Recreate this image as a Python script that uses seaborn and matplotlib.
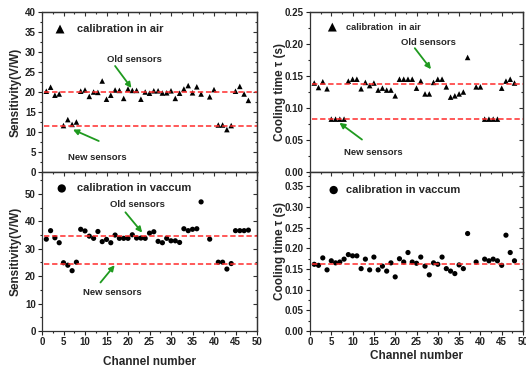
import numpy as np
import pandas as pd
import matplotlib
matplotlib.use("Agg")
import matplotlib.pyplot as plt
import seaborn as sns
from matplotlib.ticker import MultipleLocator, AutoMinorLocator

# ---- data ----
ch_air = list(range(1, 38)) + list(range(39, 49))
ch_vac = list(range(1, 38)) + [39] + list(range(41, 49))

sens_air = [20.2, 21.2, 19.2, 19.5, 11.6, 13.1, 11.9, 12.5, 20.2, 20.5,
            18.9, 20.0, 19.9, 22.75, 18.2, 19.2, 20.5, 20.4, 18.4, 20.75,
            20.4, 20.4, 18.2, 20.0, 19.7, 20.3, 20.3, 19.75, 19.8, 20.3,
            18.4, 19.7, 20.75, 21.6, 19.8, 21.3, 19.5,
            18.8, 20.6, 11.75, 11.75, 10.6, 11.6, 20.2, 21.4, 19.5, 17.9]

tau_air = [0.139, 0.132, 0.141, 0.130, 0.0826, 0.0826, 0.0826, 0.0826, 0.142, 0.145,
           0.145, 0.130, 0.140, 0.135, 0.139, 0.128, 0.131, 0.128, 0.128, 0.119,
           0.145, 0.145, 0.145, 0.145, 0.131, 0.142, 0.122, 0.122, 0.140, 0.145,
           0.145, 0.133, 0.117, 0.119, 0.122, 0.125, 0.179,
           0.133, 0.133, 0.0826, 0.0826, 0.0826, 0.0826, 0.131, 0.142, 0.145, 0.139]

sens_vac = [33.5, 36.6, 34.0, 32.2, 24.9, 24.0, 22.0, 25.1, 37.1, 36.5,
            34.6, 33.8, 36.3, 32.6, 33.4, 32.2, 35.0, 33.8, 33.8, 33.8,
            35.1, 33.9, 33.9, 33.8, 35.7, 36.2, 32.7, 32.2, 33.8, 32.9,
            32.9, 32.3, 37.3, 36.6, 37.1, 37.3, 47.1,
            33.5, 25.1, 25.1, 22.6, 24.6, 36.6, 36.6, 36.6, 36.8]

tau_vac = [0.1615, 0.159, 0.177, 0.148, 0.170, 0.165, 0.167, 0.174, 0.185, 0.182,
           0.182, 0.151, 0.174, 0.148, 0.179, 0.148, 0.157, 0.145, 0.165, 0.131,
           0.175, 0.167, 0.190, 0.167, 0.164, 0.179, 0.157, 0.136, 0.165, 0.1615,
           0.179, 0.151, 0.145, 0.139, 0.160, 0.151, 0.236,
           0.167, 0.174, 0.170, 0.174, 0.170, 0.159, 0.232, 0.190, 0.170]

# mean levels (red dashed lines)
sens_air_old, sens_air_new = 20.0, 11.4
tau_air_old, tau_air_new = 0.138, 0.0826
sens_vac_old, sens_vac_new = 34.75, 24.4
tau_vac_old = 0.1615

df_air = pd.DataFrame({"ch": ch_air, "sens": sens_air, "tau": tau_air})
df_vac = pd.DataFrame({"ch": ch_vac, "sens": sens_vac, "tau": tau_vac})

sns.set_theme(style="ticks")
plt.rcParams["font.family"] = ["Liberation Sans", "DejaVu Sans"]
plt.rcParams["font.weight"] = "bold"
plt.rcParams["axes.labelweight"] = "bold"

fig = plt.figure(figsize=(5.26, 3.70), dpi=100)
W, H = 526, 370


def box(x0, x1, y0, y1):
    return [x0 / W, (H - y1) / H, (x1 - x0) / W, (y1 - y0) / H]


ax1 = fig.add_axes(box(42, 257, 12, 172))
ax3 = fig.add_axes(box(42, 257, 172, 331))
ax2 = fig.add_axes(box(310, 523, 12, 172))
ax4 = fig.add_axes(box(310, 523, 172, 331))

RED = "#ff2b2b"
GREEN = "#1f9a1f"
dash = (0, (3.5, 1.8))

sns.scatterplot(data=df_air, x="ch", y="sens", marker="^", s=16, color="black",
                edgecolor="none", ax=ax1, label="calibration in air")
sns.scatterplot(data=df_air, x="ch", y="tau", marker="^", s=16, color="black",
                edgecolor="none", ax=ax2, label="calibration  in air")
sns.scatterplot(data=df_vac, x="ch", y="sens", marker="o", s=14, color="black",
                edgecolor="none", ax=ax3, label="calibration in vaccum")
sns.scatterplot(data=df_vac, x="ch", y="tau", marker="o", s=14, color="black",
                edgecolor="none", ax=ax4, label="calibration in vaccum")

for ax, lev in [(ax1, sens_air_old), (ax1, sens_air_new), (ax2, tau_air_old),
                (ax2, tau_air_new), (ax3, sens_vac_old), (ax3, sens_vac_new),
                (ax4, tau_vac_old)]:
    ax.axhline(lev, xmin=0.01, color=RED, lw=1.1, ls=dash, zorder=1)


def arrow(ax, txt, tpos, start, end, fs=6.8):
    ax.text(tpos[0], tpos[1], txt, ha="center", va="center", fontsize=fs,
            fontweight="bold")
    ax.annotate("", xy=end, xytext=start,
                arrowprops=dict(arrowstyle="-|>", color=GREEN, lw=1.3,
                                mutation_scale=8, shrinkA=0, shrinkB=0))


arrow(ax1, "Old sensors", (21.4, 28.2), (17.0, 26.5), (20.8, 21.0))
arrow(ax1, "New sensors", (12.9, 3.75), (13.2, 7.75), (7.2, 10.6))
arrow(ax2, "Old sensors", (27.7, 0.2024), (24.6, 0.1935), (28.4, 0.1606))
arrow(ax2, "New sensors", (14.8, 0.0298), (12.2, 0.0507), (6.9, 0.0769))
arrow(ax3, "Old sensors", (22.2, 46.2), (19.4, 43.3), (23.3, 35.9))
arrow(ax3, "New sensors", (16.3, 14.0), (13.6, 17.7), (16.9, 24.0))

# legends
for ax, anchor, fs, pad in [(ax1, (0.058, 0.894), 8.0, 1.0),
                            (ax2, (0.083, 0.906), 6.7, 0.95),
                            (ax3, (0.066, 0.897), 8.0, 0.9),
                            (ax4, (0.085, 0.887), 8.0, 0.6)]:
    ax.legend(loc="center left", bbox_to_anchor=anchor, frameon=False,
              borderpad=0, borderaxespad=0, handlelength=1.0,
              handletextpad=pad, markerscale=1.6,
              prop={"size": fs, "weight": "bold"})

# axes styling
ylims = {ax1: (0, 40, 5), ax2: (0, 0.25, 0.05), ax3: (0, 58, 10), ax4: (0, 0.385, 0.05)}
for ax, (lo, hi, step) in ylims.items():
    ax.set_xlim(0, 50)
    ax.set_ylim(lo, hi)
    ax.xaxis.set_major_locator(MultipleLocator(5))
    ax.xaxis.set_minor_locator(AutoMinorLocator(2))
    ax.yaxis.set_major_locator(MultipleLocator(step))
    ax.yaxis.set_minor_locator(AutoMinorLocator(2))
    ax.tick_params(which="both", direction="out", labelsize=7, width=0.8,
                   colors="#222222", pad=1.5)
    ax.tick_params(which="major", length=3)
    ax.tick_params(which="minor", length=1.6)
    for sp in ax.spines.values():
        sp.set_visible(True)
        sp.set_linewidth(0.9)
        sp.set_color("#333333")
    # mirrored ticks pointing inwards
    sx = ax.secondary_xaxis("top")
    sy = ax.secondary_yaxis("right")
    sx.xaxis.set_major_locator(MultipleLocator(5))
    sx.xaxis.set_minor_locator(AutoMinorLocator(2))
    sy.yaxis.set_major_locator(MultipleLocator(step))
    sy.yaxis.set_minor_locator(AutoMinorLocator(2))
    for s in (sx, sy):
        s.tick_params(which="both", direction="in", labeltop=False,
                      labelright=False, width=0.8, colors="#333333")
        s.tick_params(which="major", length=3)
        s.tick_params(which="minor", length=1.6)
        for sp in s.spines.values():
            sp.set_linewidth(0.9)
            sp.set_color("#333333")

for ax in (ax1, ax2):
    ax.set_xlabel("")
    ax.tick_params(labelbottom=False)

ax2.yaxis.set_major_formatter(matplotlib.ticker.FormatStrFormatter("%.2f"))
ax4.yaxis.set_major_formatter(matplotlib.ticker.FormatStrFormatter("%.2f"))

for ax in (ax1, ax3):
    ax.set_ylabel("Sensitivity(V/W)", fontsize=8.5)
    ax.yaxis.set_label_coords(-0.095, 0.5)
for ax in (ax2, ax4):
    ax.set_ylabel("Cooling time \u03c4 (s)", fontsize=8.5)
    ax.yaxis.set_label_coords(-0.113, 0.5)

ax3.set_xlabel("Channel number", fontsize=8.5)
ax3.xaxis.set_label_coords(0.5, -0.155)
ax4.set_xlabel("Channel number", fontsize=8.5)
ax4.xaxis.set_label_coords(0.5, -0.118)

fig.savefig("out.png", dpi=100, facecolor="white")
